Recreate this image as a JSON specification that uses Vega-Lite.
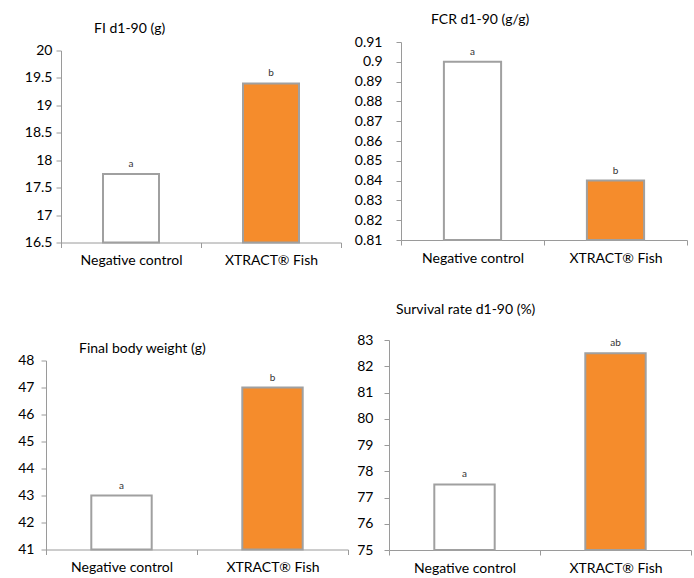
{
  "$schema": "https://vega.github.io/schema/vega-lite/v6.json",
  "padding": {"left": 17, "top": 13, "right": 0, "bottom": 0},
  "background": "white",
  "config": {
    "font": "Lato",
    "view": {"stroke": null},
    "axis": {"labelFont": "Lato", "labelFontSize": 14, "labelColor": "#000000", "domainColor": "#9a9a9a", "tickColor": "#9a9a9a", "domainWidth": 1, "tickWidth": 1, "tickSize": 5, "grid": false, "title": null},
    "title": {"font": "Lato", "fontSize": 14, "fontWeight": "normal", "color": "#000000", "anchor": "start", "frame": "group"},
    "concat": {"spacing": 5}
  },
  "datasets": {
    "fi": [{"group": "Negative control", "value": 17.75, "sig": "a"}, {"group": "XTRACT® Fish", "value": 19.4, "sig": "b"}],
    "fcr": [{"group": "Negative control", "value": 0.9, "sig": "a"}, {"group": "XTRACT® Fish", "value": 0.84, "sig": "b"}],
    "fbw": [{"group": "Negative control", "value": 43, "sig": "a"}, {"group": "XTRACT® Fish", "value": 47, "sig": "b"}],
    "sr": [{"group": "Negative control", "value": 77.5, "sig": "a"}, {"group": "XTRACT® Fish", "value": 82.5, "sig": "ab"}]
  },
  "hconcat": [
    {
      "columns": 1,
      "spacing": 69,
      "concat": [
        {
          "title": {"text": "FI d1-90 (g)", "offset": 8, "dx": 48},
          "width": 295, "height": 192,
          "data": {"name": "fi"},
          "encoding": {
            "x": {"field": "group", "type": "nominal", "sort": null, "scale": {"paddingInner": 0, "paddingOuter": 0, "range": [15, 295]}, "axis": {"labelAngle": 0, "tickBand": "extent", "labelPadding": 6, "minExtent": 30, "maxExtent": 30}},
            "y": {"field": "value", "type": "quantitative", "scale": {"domain": [16.5, 20], "zero": false, "nice": false}, "axis": {"values": [16.5, 17, 17.5, 18, 18.5, 19, 19.5, 20], "format": "~g", "labelPadding": 4, "offset": -15, "minExtent": 28, "maxExtent": 28}}
          },
          "layer": [
            {"mark": {"type": "bar", "width": {"band": 0.4}, "stroke": "#a0a0a0", "strokeWidth": 2}, "encoding": {"y2": {"datum": 16.5}, "color": {"field": "group", "type": "nominal", "scale": {"domain": ["Negative control", "XTRACT® Fish"], "range": ["#ffffff", "#f58c2c"]}, "legend": null}}},
            {"mark": {"type": "text", "baseline": "bottom", "dy": -5, "fontSize": 10, "color": "#333333"}, "encoding": {"text": {"field": "sig"}}}
          ]
        },
        {
          "title": {"text": "Final body weight (g)", "offset": -2, "dx": 33},
          "width": 302, "height": 189,
          "data": {"name": "fbw"},
          "encoding": {
            "x": {"field": "group", "type": "nominal", "sort": null, "scale": {"paddingInner": 0, "paddingOuter": 0}, "axis": {"labelAngle": 0, "tickBand": "extent", "labelPadding": 6, "minExtent": 26, "maxExtent": 26}},
            "y": {"field": "value", "type": "quantitative", "scale": {"domain": [41, 48], "zero": false, "nice": false}, "axis": {"values": [41, 42, 43, 44, 45, 46, 47, 48], "format": "~g", "labelPadding": 7, "minExtent": 28, "maxExtent": 28}}
          },
          "layer": [
            {"mark": {"type": "bar", "width": {"band": 0.4}, "stroke": "#a0a0a0", "strokeWidth": 2}, "encoding": {"y2": {"datum": 41}, "color": {"field": "group", "type": "nominal", "scale": {"domain": ["Negative control", "XTRACT® Fish"], "range": ["#ffffff", "#f58c2c"]}, "legend": null}}},
            {"mark": {"type": "text", "baseline": "bottom", "dy": -5, "fontSize": 10, "color": "#333333"}, "encoding": {"text": {"field": "sig"}}}
          ]
        }
      ]
    },
    {
      "columns": 1,
      "spacing": 33,
      "concat": [
        {
          "title": {"text": "FCR d1-90 (g/g)", "offset": 8, "dx": 42},
          "width": 298, "height": 198,
          "data": {"name": "fcr"},
          "encoding": {
            "x": {"field": "group", "type": "nominal", "sort": null, "scale": {"paddingInner": 0, "paddingOuter": 0, "range": [12, 298]}, "axis": {"labelAngle": 0, "tickBand": "extent", "labelPadding": 6, "minExtent": 30, "maxExtent": 30}},
            "y": {"field": "value", "type": "quantitative", "scale": {"domain": [0.81, 0.91], "zero": false, "nice": false}, "axis": {"values": [0.81, 0.82, 0.83, 0.84, 0.85, 0.86, 0.87, 0.88, 0.89, 0.9, 0.91], "format": "~g", "labelPadding": 14, "offset": -12, "minExtent": 33, "maxExtent": 33}}
          },
          "layer": [
            {"mark": {"type": "bar", "width": {"band": 0.4}, "stroke": "#a0a0a0", "strokeWidth": 2}, "encoding": {"y2": {"datum": 0.81}, "color": {"field": "group", "type": "nominal", "scale": {"domain": ["Negative control", "XTRACT® Fish"], "range": ["#ffffff", "#f58c2c"]}, "legend": null}}},
            {"mark": {"type": "text", "baseline": "bottom", "dy": -5, "fontSize": 10, "color": "#333333"}, "encoding": {"text": {"field": "sig"}}}
          ]
        },
        {
          "title": {"text": "Survival rate d1-90 (%)", "offset": 16, "dx": 7},
          "width": 302, "height": 210,
          "data": {"name": "sr"},
          "encoding": {
            "x": {"field": "group", "type": "nominal", "sort": null, "scale": {"paddingInner": 0, "paddingOuter": 0}, "axis": {"labelAngle": 0, "tickBand": "extent", "labelPadding": 6, "minExtent": 34, "maxExtent": 34}},
            "y": {"field": "value", "type": "quantitative", "scale": {"domain": [75, 83], "zero": false, "nice": false}, "axis": {"values": [75, 76, 77, 78, 79, 80, 81, 82, 83], "format": "~g", "labelPadding": 11, "minExtent": 33, "maxExtent": 33}}
          },
          "layer": [
            {"mark": {"type": "bar", "width": {"band": 0.4}, "stroke": "#a0a0a0", "strokeWidth": 2}, "encoding": {"y2": {"datum": 75}, "color": {"field": "group", "type": "nominal", "scale": {"domain": ["Negative control", "XTRACT® Fish"], "range": ["#ffffff", "#f58c2c"]}, "legend": null}}},
            {"mark": {"type": "text", "baseline": "bottom", "dy": -5, "fontSize": 10, "color": "#333333"}, "encoding": {"text": {"field": "sig"}}}
          ]
        }
      ]
    }
  ],
  "center": true
}
